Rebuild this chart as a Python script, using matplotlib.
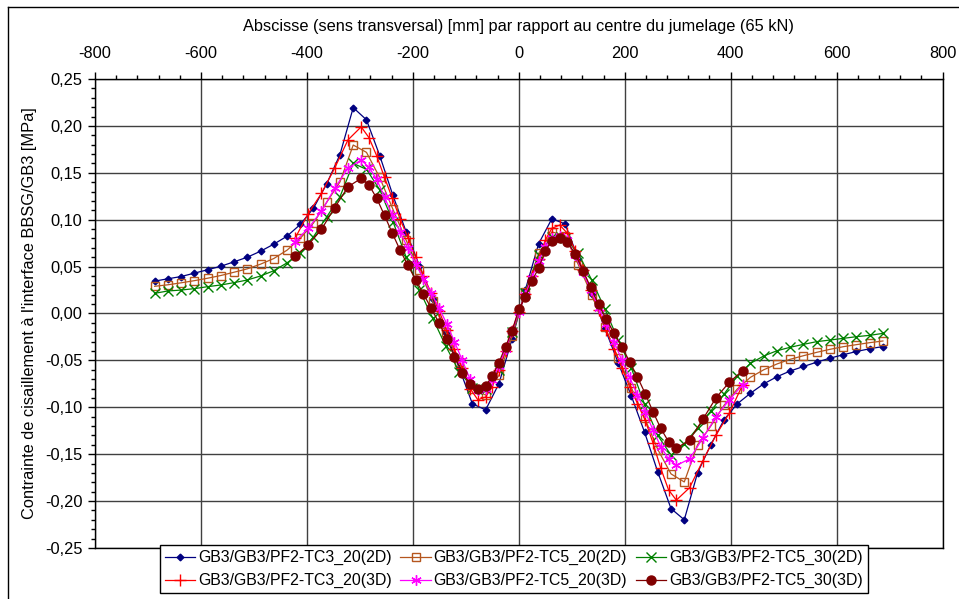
import matplotlib
matplotlib.use("Agg")
import matplotlib.pyplot as plt
from matplotlib.ticker import MultipleLocator, FuncFormatter
from matplotlib.lines import Line2D

plt.rcParams['font.family'] = ['Liberation Sans', 'DejaVu Sans']

# ---------------- data ----------------
x_2d = [-687.5, -662.5, -637.5, -612.5, -587.5, -562.5, -537.5, -512.5, -487.5, -462.5,
        -437.5, -412.5, -387.5, -362.5, -337.5, -312.5, -287.5, -262.5, -237.5, -212.5,
        -187.5, -162.5, -137.5, -112.5, -87.5, -62.5, -37.5, -12.5, 12.5, 37.5,
        62.5, 87.5, 112.5, 137.5, 162.5, 187.5, 212.5, 237.5, 262.5, 287.5,
        312.5, 337.5, 362.5, 387.5, 412.5, 437.5, 462.5, 487.5, 512.5, 537.5,
        562.5, 587.5, 612.5, 637.5, 662.5, 687.5]

tc3_20_2d = [0.0345, 0.037, 0.0394, 0.043, 0.0466, 0.0504, 0.0551, 0.060, 0.0664, 0.0739,
             0.0824, 0.0949, 0.1123, 0.1383, 0.1695, 0.2195, 0.2065, 0.1684, 0.1258, 0.087,
             0.051, 0.0154, -0.0206, -0.058, -0.0963, -0.1027, -0.0749, -0.027, 0.0253, 0.0743,
             0.101, 0.0955, 0.0583, 0.021, -0.0157, -0.0523, -0.0878, -0.1265, -0.169, -0.208,
             -0.2199, -0.170, -0.140, -0.1133, -0.0963, -0.085, -0.075, -0.0674, -0.0613, -0.0565,
             -0.0519, -0.0476, -0.0440, -0.0405, -0.0376, -0.0352]

tc5_20_2d = [0.029, 0.0306, 0.0327, 0.035, 0.0376, 0.0405, 0.044, 0.0476, 0.0526, 0.0586,
             0.0675, 0.080, 0.0965, 0.1186, 0.1403, 0.1796, 0.1718, 0.145, 0.111, 0.078,
             0.046, 0.013, -0.020, -0.052, -0.080, -0.087, -0.066, -0.024, 0.023, 0.064,
             0.087, 0.083, 0.052, 0.020, -0.014, -0.047, -0.079, -0.111, -0.145, -0.171,
             -0.1796, -0.140, -0.120, -0.098, -0.0805, -0.068, -0.060, -0.0538, -0.0488, -0.045,
             -0.0414, -0.0382, -0.0354, -0.0332, -0.0311, -0.0293]

tc5_30_2d = [0.0215, 0.024, 0.025, 0.0265, 0.0286, 0.0304, 0.0329, 0.0357, 0.040, 0.0456,
             0.054, 0.064, 0.0819, 0.103, 0.1245, 0.160, 0.1537, 0.132, 0.098, 0.060,
             0.025, -0.005, -0.035, -0.062, -0.079, -0.081, -0.060, -0.020, 0.022, 0.062,
             0.082, 0.080, 0.064, 0.036, 0.005, -0.028, -0.058, -0.097, -0.130, -0.151,
             -0.139, -0.122, -0.104, -0.086, -0.0666, -0.0531, -0.0453, -0.0397, -0.036, -0.0329,
             -0.030, -0.0283, -0.0265, -0.0247, -0.0233, -0.0212]

x_3d = [-422.5, -397.5, -372.5, -347.5, -322.5, -297.5, -282.8, -268.1, -253.4, -238.8,
        -224.1, -209.4, -194.7, -180.0, -165.3, -150.6, -135.9, -121.3, -106.6, -91.9,
        -77.2, -62.5, -50.0, -37.5, -25.0, -12.5, 0.0, 12.5, 25.0, 37.5,
        50.0, 62.5, 77.2, 91.9, 106.6, 121.3, 135.9, 150.6, 165.3, 180.0,
        194.7, 209.4, 224.1, 238.8, 253.4, 268.1, 282.8, 297.5, 322.5, 347.5,
        372.5, 397.5, 422.5]

tc3_20_3d = [0.080, 0.1065, 0.128, 0.155, 0.185, 0.199, 0.1875, 0.168, 0.145, 0.123,
             0.101, 0.081, 0.060, 0.040, 0.022, 0.003, -0.018, -0.038, -0.058, -0.080,
             -0.092, -0.089, -0.078, -0.060, -0.040, -0.019, 0.002, 0.021, 0.040, 0.058,
             0.078, 0.0908, 0.0943, 0.0855, 0.067, 0.046, 0.025, 0.004, -0.018, -0.038,
             -0.058, -0.078, -0.096, -0.114, -0.138, -0.165, -0.188, -0.199, -0.1857, -0.157,
             -0.1295, -0.1064, -0.0762]

tc5_20_3d = [0.0766, 0.0908, 0.109, 0.1335, 0.155, 0.1636, 0.156, 0.143, 0.124, 0.105,
             0.087, 0.0695, 0.053, 0.037, 0.022, 0.006, -0.011, -0.030, -0.050, -0.070,
             -0.082, -0.081, -0.071, -0.056, -0.038, -0.019, 0.002, 0.020, 0.038, 0.056,
             0.071, 0.081, 0.083, 0.078, 0.062, 0.044, 0.025, 0.006, -0.011, -0.030,
             -0.050, -0.068, -0.087, -0.105, -0.124, -0.142, -0.155, -0.162, -0.155, -0.133,
             -0.110, -0.0922, -0.076]

tc5_30_3d = [0.0613, 0.073, 0.0897, 0.1128, 0.135, 0.1441, 0.137, 0.1228, 0.1045, 0.0857,
             0.0677, 0.0515, 0.036, 0.021, 0.0055, -0.010, -0.0268, -0.046, -0.063, -0.0755,
             -0.0808, -0.0773, -0.0666, -0.0524, -0.0354, -0.0183, 0.0045, 0.0173, 0.035, 0.0482,
             0.067, 0.0776, 0.080, 0.0760, 0.0634, 0.0456, 0.0278, 0.0098, -0.006, -0.021,
             -0.0357, -0.0514, -0.0677, -0.0855, -0.1047, -0.1224, -0.1367, -0.1437, -0.1349, -0.1128,
             -0.0898, -0.0733, -0.061]

labels = ["GB3/GB3/PF2-TC3_20(2D)", "GB3/GB3/PF2-TC5_20(2D)", "GB3/GB3/PF2-TC5_30(2D)",
          "GB3/GB3/PF2-TC3_20(3D)", "GB3/GB3/PF2-TC5_20(3D)", "GB3/GB3/PF2-TC5_30(3D)"]

# ---------------- figure ----------------
W, H = 959, 599
fig = plt.figure(figsize=(W / 100, H / 100), dpi=100)
ax = fig.add_axes([95 / W, 1 - 548 / H, (942.5 - 95) / W, (548 - 79) / H])

FS = 11.8
LFS = 11.4

styles = [
    dict(color='#000080', marker='D', ms=3.4, mfc='#000080', mec='#000080'),
    dict(color='#B5561E', marker='s', ms=6, mfc='none', mec='#B5561E', mew=1.0),
    dict(color='#008000', marker='x', ms=6.5, mec='#008000', mew=1.0),
    dict(color='#FF0000', marker='+', ms=8.5, mec='#FF0000', mew=1.0),
    dict(color='#FF00FF', marker=(6, 2, 0), ms=7.5, mec='#FF00FF', mew=1.0),
    dict(color='#800000', marker='o', ms=6.5, mfc='#800000', mec='#800000'),
]
series = [(x_2d, tc3_20_2d), (x_2d, tc5_20_2d), (x_2d, tc5_30_2d),
          (x_3d, tc3_20_3d), (x_3d, tc5_20_3d), (x_3d, tc5_30_3d)]

handles = []
for (xs, ys), st, lab in zip(series, styles, labels):
    h, = ax.plot(xs, ys, lw=0.9, label=lab, **st)
    handles.append(h)

ax.set_xlim(-800, 800)
ax.set_ylim(-0.25, 0.25)
ax.xaxis.set_major_locator(MultipleLocator(200))
ax.xaxis.set_minor_locator(MultipleLocator(40))
ax.yaxis.set_major_locator(MultipleLocator(0.05))
ax.yaxis.set_minor_locator(MultipleLocator(0.01))
ax.yaxis.set_major_formatter(FuncFormatter(lambda v, p: ("%.2f" % v).replace('.', ',').replace('-0,00', '0,00')))
ax.xaxis.set_major_formatter(FuncFormatter(lambda v, p: "%d" % v))

ax.xaxis.tick_top()
ax.xaxis.set_label_position('top')
ax.tick_params(axis='x', which='both', direction='out', top=True, bottom=False,
               labelsize=FS, pad=8)
ax.tick_params(axis='x', which='major', length=5, width=1)
ax.tick_params(axis='x', which='minor', length=3, width=1)
ax.tick_params(axis='y', which='both', direction='out', left=True, right=False, labelsize=FS, pad=4)
ax.tick_params(axis='y', which='major', length=5, width=1)
ax.tick_params(axis='y', which='minor', length=3, width=1)

ax.grid(True, which='major', color='#404040', lw=1.0)
ax.set_axisbelow(True)
for s in ax.spines.values():
    s.set_color('black')
    s.set_linewidth(1.0)

ax.set_xlabel("Abscisse (sens transversal) [mm] par rapport au centre du jumelage (65 kN)",
              fontsize=FS, labelpad=11)
ax.set_ylabel("Contrainte de cisaillement à l'interface BBSG/GB3 [MPa]", fontsize=FS, labelpad=6)

# legend: row-wise order with ncol=3 -> interleave
order = [0, 3, 1, 4, 2, 5]
leg = fig.legend([handles[i] for i in order], [labels[i] for i in order],
                 ncol=3, loc='lower left', bbox_to_anchor=(160 / W, 1 - 593 / H),
                 frameon=True, fancybox=False, framealpha=1, edgecolor='black',
                 fontsize=LFS, handlelength=1.9, handletextpad=0.2, columnspacing=0.55,
                 borderpad=0.3, labelspacing=0.5, borderaxespad=0)
leg.get_frame().set_linewidth(1.0)

# outer chart frame (partially outside image)
fig.add_artist(Line2D([8 / W, 8 / W], [0, 1 - 7 / H], color='black', lw=1.0, transform=fig.transFigure))
fig.add_artist(Line2D([8 / W, 1], [1 - 7 / H, 1 - 7 / H], color='black', lw=1.0, transform=fig.transFigure))

fig.savefig("out.png", dpi=100)
